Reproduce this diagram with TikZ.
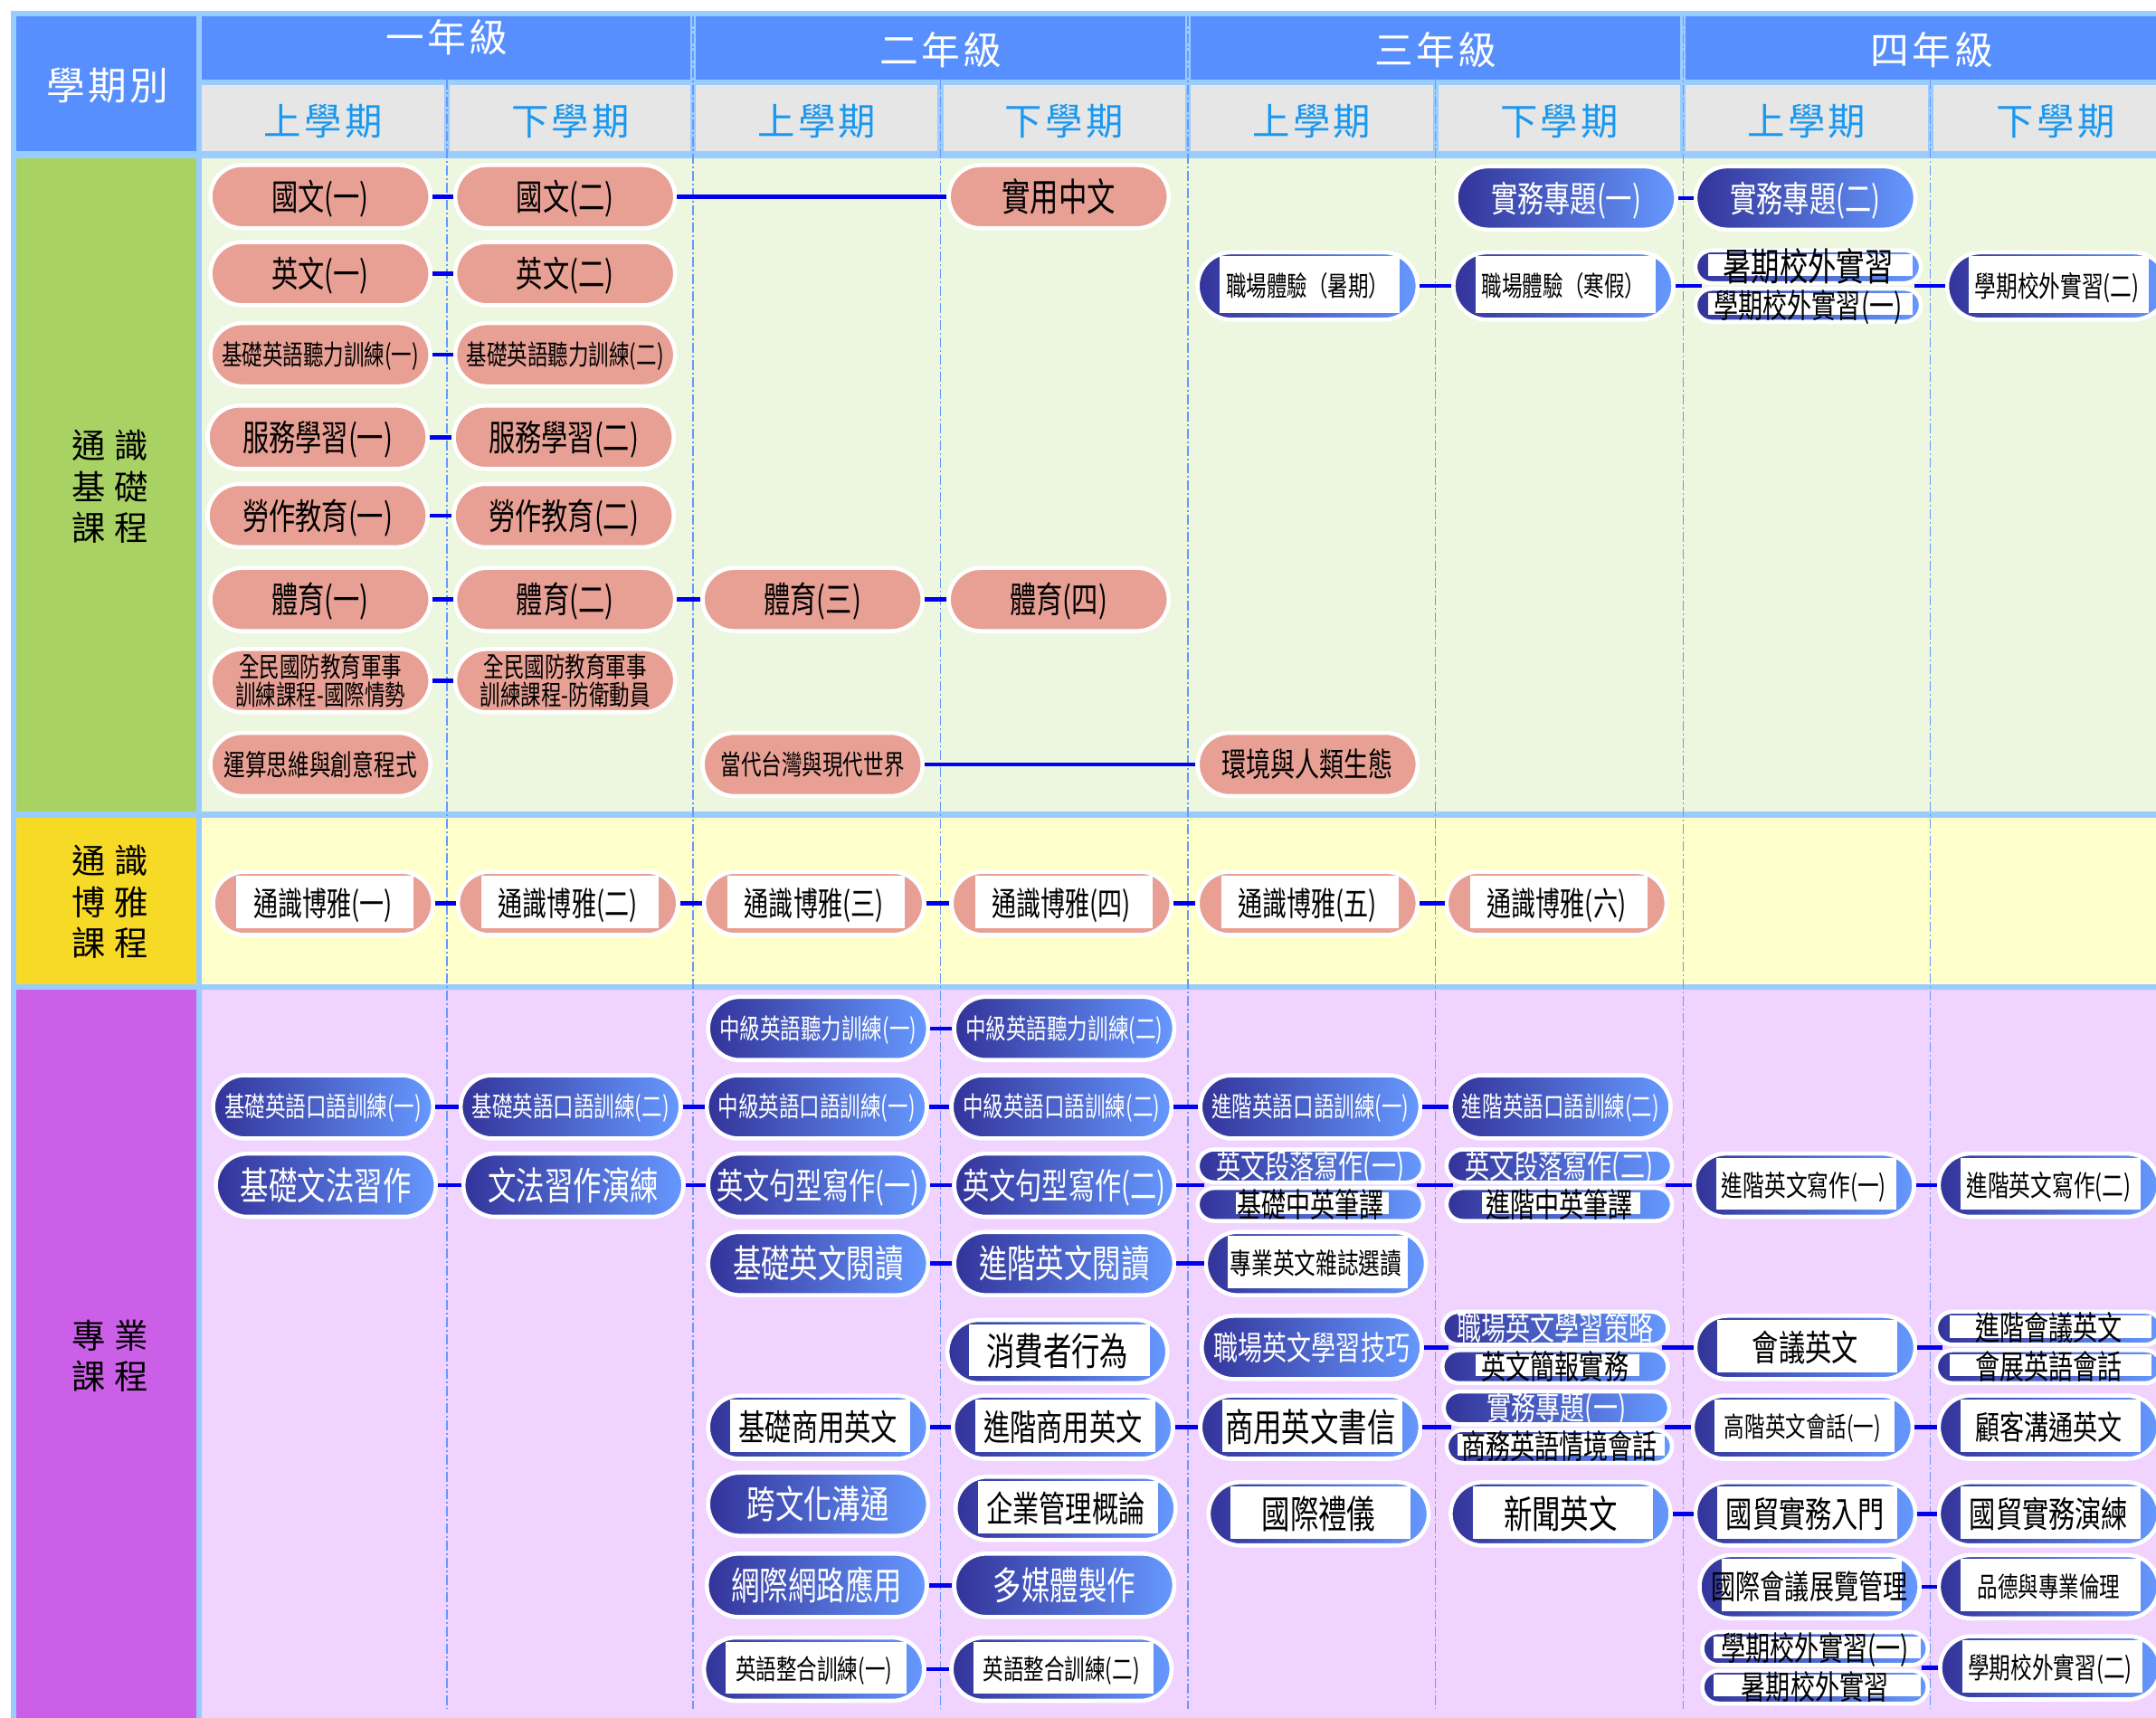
\documentclass[tikz,border=0pt]{standalone}
\usepackage{fontspec}
\usepackage{xcolor}
\usepackage{tikz}
\usetikzlibrary{
	calc,           % Per calcolare i punti di raccordo delle coppie di corsi
	positioning     % Per posizionare i nodi
}
\setmainfont{Noto Sans CJK TC}
\newfontfamily\corso[FakeStretch=0.74]{Noto Sans CJK TC}  % testo dei corsi (stretto)
\newfontfamily\titolo[LetterSpace=8]{Noto Sans CJK TC}     % intestazioni
\newfontfamily\area[LetterSpace=25]{Noto Sans CJK TC}      % colonna di sinistra

% Unita' di disegno: un pixel della griglia
\newlength\pu
\setlength\pu{0.02cm}

% Colori
\definecolor{grigliablu}{RGB}{153,204,255}
\definecolor{testablu}{RGB}{87,143,255}
\definecolor{testagrigio}{RGB}{230,230,230}
\definecolor{semestre}{RGB}{25,152,240}
\definecolor{verde}{RGB}{169,210,100}
\definecolor{verdechiaro}{RGB}{237,246,223}
\definecolor{giallo}{RGB}{247,218,38}
\definecolor{giallochiaro}{RGB}{255,255,204}
\definecolor{viola}{RGB}{204,95,232}
\definecolor{violachiaro}{RGB}{240,212,255}
\definecolor{salmone}{RGB}{232,160,148}
\definecolor{blunotte}{RGB}{51,51,153}
\definecolor{bluluce}{RGB}{102,153,255}
\definecolor{raccordo}{RGB}{0,0,238}
\definecolor{tratteggio}{RGB}{102,153,255}

\begin{document}
\begin{tikzpicture}[x=0.02cm, y=-0.02cm,
	pill/.style={rectangle, draw=white, line width=3\pu, inner sep=0pt,
		minimum width=160\pu, minimum height=46\pu, rounded corners=23\pu, align=center},
	half/.style={minimum width=164\pu, minimum height=24\pu, rounded corners=12\pu},
	rosa/.style={pill, fill=salmone, text=black},
	notte/.style={pill, left color=blunotte, right color=bluluce, text=white},
	bianco/.style={text=black, path picture={\fill[white, sharp corners]
			([shift={(#1,-5)}]path picture bounding box.south west) rectangle
			([shift={(-#1+3,3)}]path picture bounding box.north east);}},
	bianco/.default=16,
	fXL/.style={font=\corso\fontsize{15.9}{18}\selectfont, text height=21\pu, text depth=0pt},
	fL/.style={font=\corso\fontsize{14.8}{17}\selectfont, text height=20\pu, text depth=0pt},
	fM/.style={font=\corso\fontsize{13.7}{16}\selectfont, text height=18\pu, text depth=0pt},
	fS/.style={font=\corso\fontsize{12}{14}\selectfont, text height=16\pu, text depth=0pt},
	fXS/.style={font=\corso\fontsize{11.4}{13}\selectfont, text height=15\pu, text depth=0pt},
	fdue/.style={font=\corso\fontsize{11.4}{10.4}\selectfont},
	anno/.style={text=white, font=\titolo\fontsize{16}{18}\selectfont},
	sem/.style={text=semestre, font=\titolo\fontsize{15.5}{18}\selectfont},
	sezione/.style={text=black, align=center, font=\area\fontsize{14}{17}\selectfont},
	link/.style={draw=raccordo, line width=3\pu},
	divisore/.style={draw=tratteggio, line width=0.8\pu, dash pattern=on 7\pu off 2\pu on 1.5\pu off 2\pu}
	]
	% Definizioni per i bordi della tabella
	\def\destra{1600} % oltre il bordo destro (colonna tagliata)
	\def\basso{1260}  % oltre il bordo inferiore
	
	\useasboundingbox (0,0) rectangle (1568,1249);
	\clip (0,0) rectangle (1568,1249);
	
	% --- Griglia e intestazioni ---
	\fill[grigliablu] (8,8) rectangle (\destra,\basso);
	\fill[testablu] (12,12) rectangle (143,110);
	\fill[testablu] (147,12) rectangle (502,58);
	\fill[testablu] (506,12) rectangle (862,58);
	\fill[testablu] (866,12) rectangle (1222,58);
	\fill[testablu] (1226,12) rectangle (\destra,58);
	\fill[testagrigio] (147,62) rectangle (323,110);
	\fill[testagrigio] (327,62) rectangle (502,110);
	\fill[testagrigio] (506,62) rectangle (682,110);
	\fill[testagrigio] (686,62) rectangle (862,110);
	\fill[testagrigio] (866,62) rectangle (1042,110);
	\fill[testagrigio] (1046,62) rectangle (1222,110);
	\fill[testagrigio] (1226,62) rectangle (1402,110);
	\fill[testagrigio] (1406,62) rectangle (\destra,110);
	
	% Fasce delle tre aree
	\fill[verde] (12,115) rectangle (143,590);
	\fill[verdechiaro] (147,115) rectangle (\destra,590);
	\fill[giallo] (12,595) rectangle (143,716);
	\fill[giallochiaro] (147,595) rectangle (\destra,716);
	\fill[viola] (12,720) rectangle (143,\basso);
	\fill[violachiaro] (147,720) rectangle (\destra,\basso);
	
	% Linee tratteggiate tra i semestri
	\draw[divisore] (325,58) -- (325,1243);
	\draw[divisore] (504,12) -- (504,1243);
	\draw[divisore] (684,58) -- (684,1243);
	\draw[divisore] (864,12) -- (864,1243);
	\draw[divisore] (1044,58) -- (1044,1243);
	\draw[divisore] (1224,12) -- (1224,1243);
	\draw[divisore] (1404,58) -- (1404,1243);
	
	% --- Etichette ---
	\node[anno] (xueqibie) at (78,62) {學期別};
	\node[anno] (nian1) at (325,27) {一年級};
	\node[anno] (nian2) at (684,36) {二年級};
	\node[anno] (nian3) at (1044,36) {三年級};
	\node[anno] (nian4) at (1405,36) {四年級};
	\node[sem] (sem1) at (235,88) {上學期};
	\node[sem] (sem2) at (415,88) {下學期};
	\node[sem] (sem3) at (594,88) {上學期};
	\node[sem] (sem4) at (774,88) {下學期};
	\node[sem] (sem5) at (954,88) {上學期};
	\node[sem] (sem6) at (1134,88) {下學期};
	\node[sem] (sem7) at (1314,88) {上學期};
	\node[sem] (sem8) at (1495,88) {下學期};
	\node[sezione] (jichu) at (80,354) {通識\\基礎\\課程};
	\node[sezione] (boya) at (80,656) {通識\\博雅\\課程};
	\node[sezione] (zhuanye) at (80,986) {專業\\課程};
	
	% --- Corsi: area verde ---
	\node[rosa, fL] (guowen1) at (233,143) {國文(一)};
	\node[rosa, fL] (guowen2) at (411,143) {國文(二)};
	\node[rosa, fXL] (shiyong) at (770,143) {實用中文};
	\node[rosa, fL] (yingwen1) at (233,199) {英文(一)};
	\node[rosa, fL] (yingwen2) at (411,199) {英文(二)};
	\node[rosa, fXS] (tingli1) at (233,258) {基礎英語聽力訓練(一)};
	\node[rosa, fXS] (tingli2) at (411,258) {基礎英語聽力訓練(二)};
	\node[rosa, fL] (fuwu1) at (231,318) {服務學習(一)};
	\node[rosa, fL] (fuwu2) at (410,318) {服務學習(二)};
	\node[rosa, fL] (laozuo1) at (231,375) {勞作教育(一)};
	\node[rosa, fL] (laozuo2) at (410,375) {勞作教育(二)};
	\node[rosa, fL] (tiyu1) at (233,436) {體育(一)};
	\node[rosa, fL] (tiyu2) at (411,436) {體育(二)};
	\node[rosa, fL] (tiyu3) at (591,436) {體育(三)};
	\node[rosa, fL] (tiyu4) at (770,436) {體育(四)};
	\node[rosa, fdue] (guofang1) at (233,495) {全民國防教育軍事\\訓練課程-國際情勢};
	\node[rosa, fdue] (guofang2) at (411,495) {全民國防教育軍事\\訓練課程-防衛動員};
	\node[rosa, fS] (yunsuan) at (233,556) {運算思維與創意程式};
	\node[rosa, fXS] (dangdai) at (591,556) {當代台灣與現代世界};
	\node[rosa, fM] (huanjing) at (951,556) {環境與人類生態};
	
	\node[notte, fL] (shiwu1) at (1139,144) {實務專題(一)};
	\node[notte, fL] (shiwu2) at (1313,144) {實務專題(二)};
	\node[notte, bianco, fXS, minimum height=49\pu, rounded corners=24.5\pu] (tiyan1) at (951,208) {職場體驗（暑期）};
	\node[notte, bianco, fXS, minimum height=49\pu, rounded corners=24.5\pu] (tiyan2) at (1137,208) {職場體驗（寒假）};
	\node[notte, half, bianco=9, fXL] (shuqi1) at (1315,194) {暑期校外實習};
	\node[notte, half, bianco=9, fM] (xiaowai1) at (1315,222) {學期校外實習(一)};
	\node[notte, bianco, fS, minimum height=49\pu, rounded corners=24.5\pu] (xiaowai2) at (1496,208) {學期校外實習(二)};
	
	% --- Corsi: area gialla ---
	\node[rosa, bianco=17, fM] (boya1) at (235,657) {通識博雅(一)};
	\node[rosa, bianco=17, fM] (boya2) at (413,657) {通識博雅(二)};
	\node[rosa, bianco=17, fM] (boya3) at (592,657) {通識博雅(三)};
	\node[rosa, bianco=17, fM] (boya4) at (772,657) {通識博雅(四)};
	\node[rosa, bianco=17, fM] (boya5) at (951,657) {通識博雅(五)};
	\node[rosa, bianco=17, fM] (boya6) at (1132,657) {通識博雅(六)};
	
	% --- Corsi: area viola ---
	\node[notte, fXS] (zhongting1) at (595,748) {中級英語聽力訓練(一)};
	\node[notte, fXS] (zhongting2) at (774,748) {中級英語聽力訓練(二)};
	\node[notte, fXS] (kouyu1) at (235,805) {基礎英語口語訓練(一)};
	\node[notte, fXS] (kouyu2) at (415,805) {基礎英語口語訓練(二)};
	\node[notte, fXS] (kouyu3) at (594,805) {中級英語口語訓練(一)};
	\node[notte, fXS] (kouyu4) at (772,805) {中級英語口語訓練(二)};
	\node[notte, fXS] (kouyu5) at (953,805) {進階英語口語訓練(一)};
	\node[notte, fXS] (kouyu6) at (1135,805) {進階英語口語訓練(二)};
	\node[notte, fXL] (wenfa1) at (237,862) {基礎文法習作};
	\node[notte, fXL] (wenfa2) at (417,862) {文法習作演練};
	\node[notte, fL] (juxing1) at (595,862) {英文句型寫作(一)};
	\node[notte, fL] (juxing2) at (774,862) {英文句型寫作(二)};
	\node[notte, half, fM] (duanluo1) at (953,848) {英文段落寫作(一)};
	\node[notte, half, bianco=28, fM] (biyi1) at (953,876) {基礎中英筆譯};
	\node[notte, half, fM] (duanluo2) at (1134,848) {英文段落寫作(二)};
	\node[notte, half, bianco=26, fM] (biyi2) at (1134,876) {進階中英筆譯};
	\node[notte, bianco, fS] (xiezuo1) at (1312,862) {進階英文寫作(一)};
	\node[notte, bianco, fS] (xiezuo2) at (1490,862) {進階英文寫作(二)};
	\node[notte, fXL] (yuedu1) at (595,919) {基礎英文閱讀};
	\node[notte, fXL] (yuedu2) at (774,919) {進階英文閱讀};
	\node[notte, bianco, fS] (zazhi) at (957,919) {專業英文雜誌選讀};
	\node[notte, bianco, fXL] (xiaofei) at (769,983) {消費者行為};
	\node[notte, fM] (jiqiao) at (954,980) {職場英文學習技巧};
	\node[notte, half, fM] (celue) at (1131,966) {職場英文學習策略};
	\node[notte, half, bianco=24, fM] (jianbao) at (1131,994) {英文簡報實務};
	\node[notte, bianco, fL] (huiyi1) at (1313,980) {會議英文};
	\node[notte, half, bianco=10, fM] (huiyi2) at (1490,966) {進階會議英文};
	\node[notte, half, bianco=10, fM] (huizhan) at (1490,994) {會展英語會話};
	\node[notte, bianco, fL] (shangyong1) at (595,1038) {基礎商用英文};
	\node[notte, bianco, fL] (shangyong2) at (773,1038) {進階商用英文};
	\node[notte, bianco, fXL] (shuxin) at (953,1038) {商用英文書信};
	\node[notte, half, fM] (zhuanti) at (1132,1024) {實務專題(一)};
	\node[notte, half, bianco=8, fM] (qingjing) at (1134,1052) {商務英語情境會話};
	\node[notte, bianco, fXS] (huihua) at (1311,1038) {高階英文會話(一)};
	\node[notte, bianco, fM] (goutong) at (1490,1038) {顧客溝通英文};
	\node[notte, fXL] (kuawenhua) at (595,1094) {跨文化溝通};
	\node[notte, bianco, fL] (qiye) at (775,1097) {企業管理概論};
	\node[notte, bianco, fXL] (liyi) at (959,1101) {國際禮儀};
	\node[notte, bianco, fXL] (xinwen) at (1135,1101) {新聞英文};
	\node[notte, bianco, fL] (guomao1) at (1313,1101) {國貿實務入門};
	\node[notte, bianco, fL] (guomao2) at (1490,1101) {國貿實務演練};
	\node[notte, fXL] (wanglu) at (594,1153) {網際網路應用};
	\node[notte, fXL] (duomeiti) at (774,1153) {多媒體製作};
	\node[notte, bianco, fM] (zhanlan) at (1316,1154) {國際會議展覽管理};
	\node[notte, bianco, fXS] (pinde) at (1490,1154) {品德與專業倫理};
	\node[notte, bianco, fXS] (zhenghe1) at (592,1214) {英語整合訓練(一)};
	\node[notte, bianco, fXS] (zhenghe2) at (772,1214) {英語整合訓練(二)};
	\node[notte, half, bianco=8, fM] (xiaowai3) at (1320,1199) {學期校外實習(一)};
	\node[notte, half, bianco=8, fM] (shuqi2) at (1320,1227) {暑期校外實習};
	\node[notte, bianco, fS] (xiaowai4) at (1491,1213) {學期校外實習(二)};
	
	% Punti di raccordo delle coppie impilate
	\coordinate (shixiin) at ($(shuqi1.west)!0.5!(xiaowai1.west)+(6,0)$);
	\coordinate (shixiout) at ($(shuqi1.east)!0.5!(xiaowai1.east)+(-6,0)$);
	\coordinate (duanluo1in) at ($(duanluo1.west)!0.5!(biyi1.west)+(6,0)$);
	\coordinate (duanluo1out) at ($(duanluo1.east)!0.5!(biyi1.east)+(-6,0)$);
	\coordinate (duanluo2in) at ($(duanluo2.west)!0.5!(biyi2.west)+(6,0)$);
	\coordinate (duanluo2out) at ($(duanluo2.east)!0.5!(biyi2.east)+(-6,0)$);
	\coordinate (celuein) at ($(celue.west)!0.5!(jianbao.west)+(6,0)$);
	\coordinate (celueout) at ($(celue.east)!0.5!(jianbao.east)+(-6,0)$);
	\coordinate (huiyi2in) at ($(huiyi2.west)!0.5!(huizhan.west)+(6,0)$);
	\coordinate (zhuantiin) at ($(zhuanti.west)!0.5!(qingjing.west)+(6,0)$);
	\coordinate (zhuantiout) at ($(zhuanti.east)!0.5!(qingjing.east)+(-6,0)$);
	\coordinate (xiaowai3out) at ($(xiaowai3.east)!0.5!(shuqi2.east)+(-6,0)$);
	
	% --- Raccordi ---
	\draw[link] (guowen1.east) -- (guowen2.west);
	\draw[link] (guowen2.east) -- (shiyong.west);
	\draw[link] (yingwen1.east) -- (yingwen2.west);
	\draw[link] (tingli1.east) -- (tingli2.west);
	\draw[link] (fuwu1.east) -- (fuwu2.west);
	\draw[link] (laozuo1.east) -- (laozuo2.west);
	\draw[link] (tiyu1.east) -- (tiyu2.west);
	\draw[link] (tiyu2.east) -- (tiyu3.west);
	\draw[link] (tiyu3.east) -- (tiyu4.west);
	\draw[link] (guofang1.east) -- (guofang2.west);
	\draw[link] (dangdai.east) -- (huanjing.west);
	\draw[link] (shiwu1.east) -- (shiwu2.west);
	\draw[link] (tiyan1.east) -- (tiyan2.west);
	\draw[link] (tiyan2.east) -- (shixiin);
	\draw[link] (shixiout) -- (xiaowai2.west);
	
	\draw[link] (boya1.east) -- (boya2.west);
	\draw[link] (boya2.east) -- (boya3.west);
	\draw[link] (boya3.east) -- (boya4.west);
	\draw[link] (boya4.east) -- (boya5.west);
	\draw[link] (boya5.east) -- (boya6.west);
	
	\draw[link] (zhongting1.east) -- (zhongting2.west);
	\draw[link] (kouyu1.east) -- (kouyu2.west);
	\draw[link] (kouyu2.east) -- (kouyu3.west);
	\draw[link] (kouyu3.east) -- (kouyu4.west);
	\draw[link] (kouyu4.east) -- (kouyu5.west);
	\draw[link] (kouyu5.east) -- (kouyu6.west);
	\draw[link] (wenfa1.east) -- (wenfa2.west);
	\draw[link] (wenfa2.east) -- (juxing1.west);
	\draw[link] (juxing1.east) -- (juxing2.west);
	\draw[link] (juxing2.east) -- (duanluo1in);
	\draw[link] (duanluo1out) -- (duanluo2in);
	\draw[link] (duanluo2out) -- (xiezuo1.west);
	\draw[link] (xiezuo1.east) -- (xiezuo2.west);
	\draw[link] (yuedu1.east) -- (yuedu2.west);
	\draw[link] (yuedu2.east) -- (zazhi.west);
	\draw[link] (jiqiao.east) -- (celuein);
	\draw[link] (celueout) -- (huiyi1.west);
	\draw[link] (huiyi1.east) -- (huiyi2in);
	\draw[link] (shangyong1.east) -- (shangyong2.west);
	\draw[link] (shangyong2.east) -- (shuxin.west);
	\draw[link] (shuxin.east) -- (zhuantiin);
	\draw[link] (zhuantiout) -- (huihua.west);
	\draw[link] (huihua.east) -- (goutong.west);
	\draw[link] (xinwen.east) -- (guomao1.west);
	\draw[link] (guomao1.east) -- (guomao2.west);
	\draw[link] (wanglu.east) -- (duomeiti.west);
	\draw[link] (zhanlan.east) -- (pinde.west);
	\draw[link] (zhenghe1.east) -- (zhenghe2.west);
	\draw[link] (xiaowai3out) -- (xiaowai4.west);
\end{tikzpicture}
\end{document}
